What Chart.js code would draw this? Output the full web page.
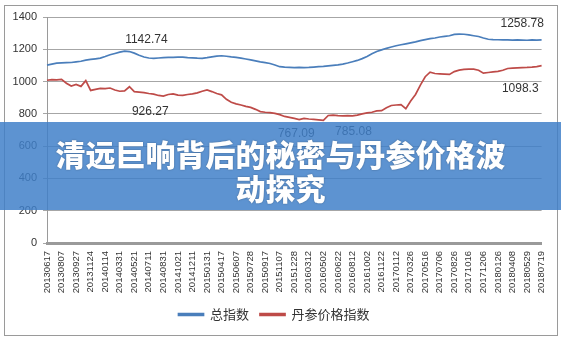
<!DOCTYPE html>
<html>
<head>
<meta charset="utf-8">
<script src="https://cdn.jsdelivr.net/npm/chart.js@4"></script>
<style>
  html, body { margin: 0; padding: 0; background: #fff; }
  #wrap { position: relative; width: 561px; height: 340px; overflow: hidden; }
  #frame { position: absolute; left: 4px; top: 5px; width: 552px; height: 329px; border: 1px solid #9a9a9a; }
  #chart { position: absolute; left: 0; top: 0; }
  #banner {
    position: absolute; left: 0; top: 122px; width: 561px; height: 88px;
    background: rgba(62, 126, 200, 0.84);
  }
  #banner div {
    width: 470px; margin: 0 auto; padding-top: 14px;
    font-family: "Noto Sans CJK SC", sans-serif; font-weight: 900;
    font-size: 30px; line-height: 34px; color: #fff; text-align: center;
    text-shadow: 0 0 2px rgba(0, 0, 0, 0.35);
  }
</style>
</head>
<body>
<div id="wrap">
  <div id="frame"></div>
  <canvas id="chart" width="561" height="340"></canvas>
  <div id="banner"><div>清远巨响背后的秘密与丹参价格波动探究</div></div>
</div>
<script>
// tick labels on the x axis (one every 3 points)
const dates = ["20130617", "20130807", "20130927", "20131124", "20140114", "20140331", "20140521",
  "20140711", "20140831", "20141021", "20141211", "20150131", "20150417", "20150607", "20150728",
  "20150917", "20151107", "20151228", "20160312", "20160502", "20160622", "20160812", "20161002",
  "20161122", "20170112", "20170326", "20170516", "20170706", "20170826", "20171016", "20171206",
  "20180126", "20180408", "20180529", "20180719"]

// 总指数
const totalIndex = [1102, 1108, 1114, 1116, 1117, 1118, 1122, 1126, 1133, 1137,
  1141, 1145, 1155, 1166, 1174, 1182, 1188, 1186, 1176, 1163,
  1152, 1146, 1144, 1146, 1148, 1150, 1150, 1152, 1151, 1148,
  1147, 1145, 1144, 1148, 1153, 1158, 1160, 1157, 1153, 1150,
  1145, 1140, 1134, 1128, 1122, 1117, 1112, 1103, 1092, 1089,
  1088, 1087, 1088, 1087, 1088, 1090, 1092, 1094, 1097, 1100,
  1103, 1108, 1115, 1123, 1131, 1142, 1155, 1172, 1186, 1196,
  1206, 1214, 1222, 1228, 1234, 1240, 1246, 1254, 1260, 1266,
  1270, 1276, 1280, 1284, 1292, 1294, 1293, 1289, 1284, 1279,
  1270, 1262, 1260, 1259, 1258, 1258, 1257, 1258, 1257, 1256,
  1258, 1257, 1258.78]

// 丹参价格指数
const danshenIndex = [1008, 1012, 1010, 1014, 990, 972, 982, 970, 1006, 945,
  952, 958, 956, 960, 948, 940, 942, 968, 938, 935,
  932, 926, 922, 914, 910, 920, 924, 916, 914, 920,
  924, 930, 940, 948, 938, 926, 918, 890, 872, 862,
  855, 846, 840, 828, 814, 810, 808, 803, 795, 784,
  778, 772, 765, 772, 768, 766, 763, 760, 790, 792,
  789, 788, 789, 788, 792, 800, 806, 810, 818, 820,
  838, 852, 855, 857, 832, 880, 920, 978, 1030, 1058,
  1050, 1048, 1046, 1044, 1062, 1071, 1075, 1077, 1077, 1070,
  1052, 1056, 1060, 1063, 1070, 1081, 1083, 1085, 1087, 1088,
  1090, 1093, 1098.3]

// data labels shown on the chart: text and anchor (point index, value)
const noteTexts = ["1142.74", "926.27", "767.09", "785.08", "1258.78", "1098.3"]
const noteIndex = [20.5, 21.3, 51.4, 63.2, 98, 97.6]
const noteValue = [1258, 814, 677, 689, 1358, 958]

const labels = totalIndex.map((v, i) => i % 3 === 0 ? dates[i / 3] : "")

const notesPlugin = {
  id: "notes",
  afterDatasetsDraw(chart) {
    const ctx = chart.ctx
    const x = chart.scales.x
    const y = chart.scales.y
    ctx.save()
    ctx.font = "12px 'Liberation Sans'"
    ctx.fillStyle = "#333"
    ctx.textAlign = "center"
    ctx.textBaseline = "middle"
    noteTexts.forEach((t, i) => {
      ctx.fillText(t, x.getPixelForValue(noteIndex[i]), y.getPixelForValue(noteValue[i]))
    })
    ctx.restore()
  }
}

new Chart(document.getElementById("chart"), {
  type: "line",
  data: {
    labels: labels,
    datasets: [{
      label: "总指数",
      data: totalIndex,
      borderColor: "#4a7ebb",
      backgroundColor: "#4a7ebb",
      borderWidth: 1.7,
      pointRadius: 0
    }, {
      label: "丹参价格指数",
      data: danshenIndex,
      borderColor: "#be4b48",
      backgroundColor: "#be4b48",
      borderWidth: 1.7,
      pointRadius: 0
    }]
  },
  options: {
    responsive: false,
    animation: false,
    layout: { padding: { top: 17, right: 13, left: 0, bottom: 9 } },
    plugins: {
      tooltip: { enabled: false },
      legend: {
        position: "bottom",
        labels: {
          boxWidth: 25,
          boxHeight: 2,
          padding: 11,
          color: "#333",
          font: { size: 13, family: "'Noto Sans CJK SC'" }
        }
      }
    },
    scales: {
      x: {
        grid: { display: false, drawTicks: false },
        border: { color: "#9a9a9a", width: 3 },
        ticks: {
          autoSkip: false,
          maxRotation: 90,
          minRotation: 90,
          padding: 8,
          color: "#333",
          font: { size: 9.5, family: "'Liberation Sans'" }
        },
        afterFit: s => { s.height = 54 }
      },
      y: {
        min: 0,
        max: 1400,
        ticks: {
          stepSize: 200,
          padding: 6,
          color: "#333",
          font: { size: 11, family: "'Liberation Sans'" },
          callback: v => String(v)
        },
        grid: { color: "#a6a6a6", tickLength: 4 },
        border: { color: "#9a9a9a" },
        afterFit: s => { s.width = 47 }
      }
    }
  },
  plugins: [notesPlugin]
})
</script>
</body>
</html>
